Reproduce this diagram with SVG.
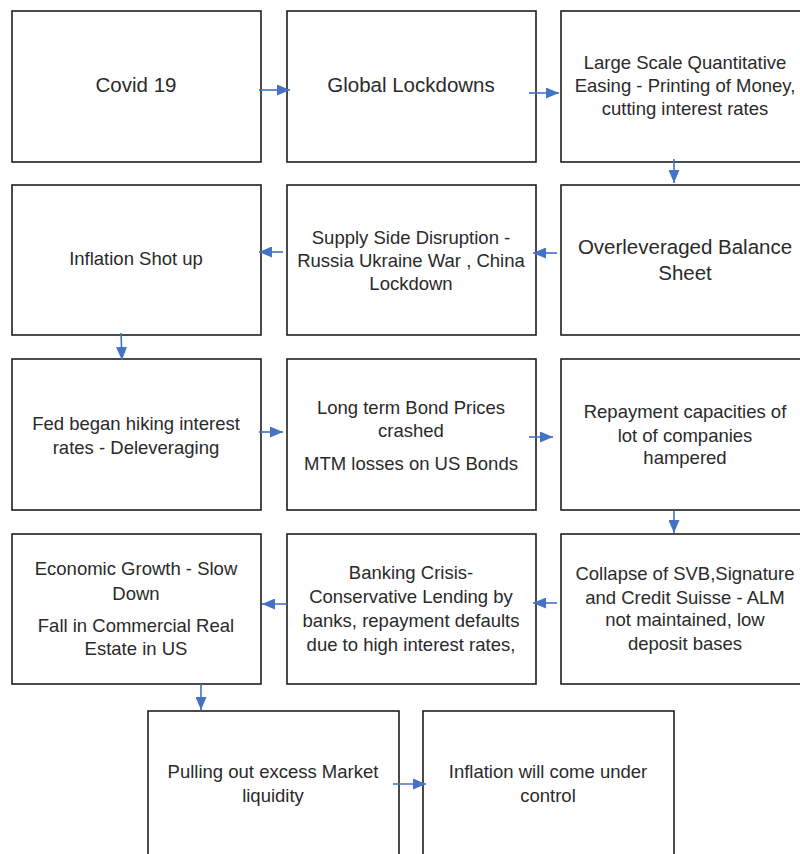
<svg xmlns="http://www.w3.org/2000/svg" width="800" height="854" viewBox="0 0 800 854">
<style>
.box{fill:#fff;stroke:#1e1e1e;stroke-width:1.6}
.t{font-family:"Liberation Sans",Arial,sans-serif;font-size:18.5px;fill:#2a2a2a;text-anchor:middle}
.tl{font-size:20.5px}
.c{stroke:#4472C4;stroke-width:1.6;fill:none;marker-end:url(#ah)}
</style>
<defs>
<marker id="ah" viewBox="0 0 13 11" refX="13" refY="5.5" markerWidth="13" markerHeight="11" markerUnits="userSpaceOnUse" orient="auto">
<path d="M0,0 L13,5.5 L0,11 z" fill="#4472C4"/>
</marker>
</defs>
<rect width="800" height="854" fill="#fff"/>
<g id="n1"><rect class="box" x="12" y="11" width="249" height="151"/><text class="t tl" x="136" y="92">Covid 19</text></g>
<g id="n2"><rect class="box" x="287" y="11" width="249" height="151"/><text class="t tl" x="411" y="92">Global Lockdowns</text></g>
<g id="n3"><rect class="box" x="561" y="11" width="249" height="151"/><text class="t" x="685" y="69">Large Scale Quantitative</text><text class="t" x="685" y="92">Easing - Printing of Money,</text><text class="t" x="685" y="115">cutting interest rates</text></g>
<g id="n4"><rect class="box" x="12" y="185" width="249" height="150"/><text class="t" x="136" y="265">Inflation Shot up</text></g>
<g id="n5"><rect class="box" x="287" y="185" width="249" height="150"/><text class="t" x="411" y="244">Supply Side Disruption -</text><text class="t" x="411" y="267">Russia Ukraine War , China</text><text class="t" x="411" y="290">Lockdown</text></g>
<g id="n6"><rect class="box" x="561" y="185" width="249" height="150"/><text class="t tl" x="685" y="254">Overleveraged Balance</text><text class="t tl" x="685" y="280">Sheet</text></g>
<g id="n7"><rect class="box" x="12" y="359" width="249" height="151"/><text class="t" x="136" y="430">Fed began hiking interest</text><text class="t" x="136" y="454">rates - Deleveraging</text></g>
<g id="n8"><rect class="box" x="287" y="359" width="249" height="151"/><text class="t" x="411" y="414">Long term Bond Prices</text><text class="t" x="411" y="437">crashed</text><text class="t" x="411" y="470">MTM losses on US Bonds</text></g>
<g id="n9"><rect class="box" x="561" y="359" width="249" height="151"/><text class="t" x="685" y="418">Repayment capacities of</text><text class="t" x="685" y="442">lot of companies</text><text class="t" x="685" y="464">hampered</text></g>
<g id="n10"><rect class="box" x="12" y="534" width="249" height="150"/><text class="t" x="136" y="575">Economic Growth - Slow</text><text class="t" x="136" y="600">Down</text><text class="t" x="136" y="632">Fall in Commercial Real</text><text class="t" x="136" y="655">Estate in US</text></g>
<g id="n11"><rect class="box" x="287" y="534" width="249" height="150"/><text class="t" x="411" y="579">Banking Crisis-</text><text class="t" x="411" y="603">Conservative Lending by</text><text class="t" x="411" y="627">banks, repayment defaults</text><text class="t" x="411" y="651">due to high interest rates,</text></g>
<g id="n12"><rect class="box" x="561" y="534" width="249" height="150"/><text class="t" x="685" y="580">Collapse of SVB,Signature</text><text class="t" x="685" y="604">and Credit Suisse - ALM</text><text class="t" x="685" y="626">not maintained, low</text><text class="t" x="685" y="650">deposit bases</text></g>
<g id="n13"><rect class="box" x="148" y="711" width="251" height="151"/><text class="t" x="273" y="778">Pulling out excess Market</text><text class="t" x="273" y="802">liquidity</text></g>
<g id="n14"><rect class="box" x="423" y="711" width="251" height="151"/><text class="t" x="548" y="778">Inflation will come under</text><text class="t" x="548" y="802">control</text></g>
<g id="connectors">
<line class="c" x1="259" y1="90" x2="290" y2="90"/>
<line class="c" x1="529" y1="93" x2="559" y2="93"/>
<line class="c" x1="674" y1="159" x2="674" y2="183"/>
<line class="c" x1="557" y1="253" x2="533" y2="253"/>
<line class="c" x1="283" y1="252" x2="259" y2="252"/>
<line class="c" x1="121" y1="333" x2="122" y2="360"/>
<line class="c" x1="259" y1="432" x2="283" y2="432"/>
<line class="c" x1="529" y1="437" x2="553" y2="437"/>
<line class="c" x1="674" y1="511" x2="674" y2="533"/>
<line class="c" x1="557" y1="603" x2="533" y2="603"/>
<line class="c" x1="287" y1="604" x2="262" y2="604"/>
<line class="c" x1="201" y1="684" x2="201" y2="710"/>
<line class="c" x1="393" y1="784" x2="426" y2="784"/>
</g>
</svg>
